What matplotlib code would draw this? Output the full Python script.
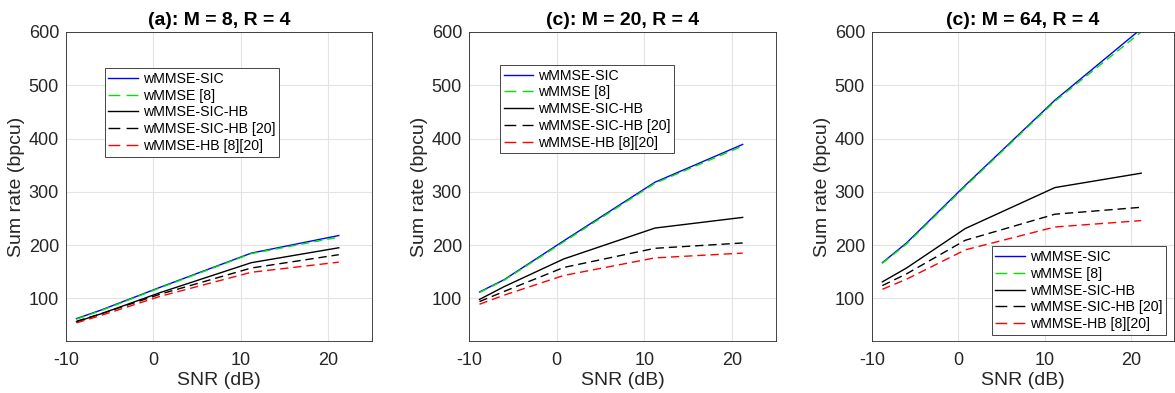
import numpy as np
import matplotlib
matplotlib.use("Agg")
import matplotlib.pyplot as plt

plt.rcParams['font.family'] = ['Liberation Sans', 'DejaVu Sans']
plt.rcParams['axes.unicode_minus'] = False

# SNR points (dB)
snr = [-8.8, -6.0, 0.8, 11.2, 21.2]

titles = ['(a): M = 8, R = 4', '(c): M = 20, R = 4', '(c): M = 64, R = 4']
labels = ['wMMSE-SIC', 'wMMSE [8]', 'wMMSE-SIC-HB', 'wMMSE-SIC-HB [20]', 'wMMSE-HB [8][20]']

# sum rate (bpcu), one list per curve, per panel
m8_sic = [62, 78, 121, 185, 218]
m8_wmmse = [61, 77, 120, 184, 215]
m8_sic_hb = [56, 71, 111, 167, 195]
m8_sic_hb20 = [57, 71, 108, 157, 182]
m8_hb = [54, 68, 104, 149, 168]

m20_sic = [112, 135, 208, 318, 389]
m20_wmmse = [111, 134, 206, 316, 386]
m20_sic_hb = [98, 122, 174, 232, 252]
m20_sic_hb20 = [94, 113, 158, 194, 204]
m20_hb = [89, 106, 143, 176, 185]

m64_sic = [167, 204, 312, 472, 606]
m64_wmmse = [166, 202, 310, 470, 600]
m64_sic_hb = [131, 157, 231, 308, 335]
m64_sic_hb20 = [124, 146, 209, 258, 271]
m64_hb = [117, 136, 191, 234, 246]

panels = [
    [m8_sic, m8_wmmse, m8_sic_hb, m8_sic_hb20, m8_hb],
    [m20_sic, m20_wmmse, m20_sic_hb, m20_sic_hb20, m20_hb],
    [m64_sic, m64_wmmse, m64_sic_hb, m64_sic_hb20, m64_hb],
]

dashed = (0, (6, 3.5))
styles = [
    dict(color='#0000ff', linestyle='-'),
    dict(color='#00e600', linestyle=dashed),
    dict(color='black', linestyle='-'),
    dict(color='black', linestyle=dashed),
    dict(color='#ff0000', linestyle=dashed),
]

fig = plt.figure(figsize=(11.75, 3.93), dpi=100)
lefts = [66, 469, 872]
widths = [306, 307, 302]
# legend corners (axes fraction)
legend_pos = [
    dict(loc='upper left', bbox_to_anchor=(0.127, 0.883)),
    dict(loc='upper left', bbox_to_anchor=(0.101, 0.893)),
    dict(loc='lower right', bbox_to_anchor=(0.973, 0.02)),
]

axc = '#262626'
for i in range(3):
    ax = fig.add_axes([lefts[i] / 1175, 52 / 393, widths[i] / 1175, 309 / 393])
    for j in range(5):
        ax.plot(snr, panels[i][j], lw=1.0, label=labels[j], **styles[j])
    ax.set_xlim(-10, 25)
    ax.set_ylim(20, 600)
    ax.set_xticks([-10, 0, 10, 20])
    ax.set_yticks([100, 200, 300, 400, 500, 600])
    ax.grid(True, color='#e3e3e3', lw=0.8)
    ax.set_axisbelow(True)
    ax.tick_params(direction='in', length=0, labelsize=13, colors=axc)
    ax.tick_params(axis='x', pad=8)
    ax.tick_params(axis='y', pad=5)
    for s in ax.spines.values():
        s.set_color(axc)
        s.set_linewidth(0.6)
    ax.set_xlabel('SNR (dB)', fontsize=14, color=axc, labelpad=2)
    ax.set_ylabel('Sum rate (bpcu)', fontsize=14, color=axc, labelpad=3)
    ax.set_title(titles[i], fontsize=14, fontweight='bold', pad=5)
    leg = ax.legend(fontsize=10.2, handlelength=2.1, handletextpad=0.35,
                    labelspacing=0.2, borderpad=0.25, borderaxespad=0,
                    fancybox=False, framealpha=1, edgecolor=axc, **legend_pos[i])
    leg.get_frame().set_linewidth(0.6)
    # two dashes per legend sample, like the original
    for ln in leg.get_lines():
        if ln.get_linestyle() != '-':
            ln.set_linestyle((0, (8.5, 4.5)))

fig.savefig('out.png', dpi=100)
